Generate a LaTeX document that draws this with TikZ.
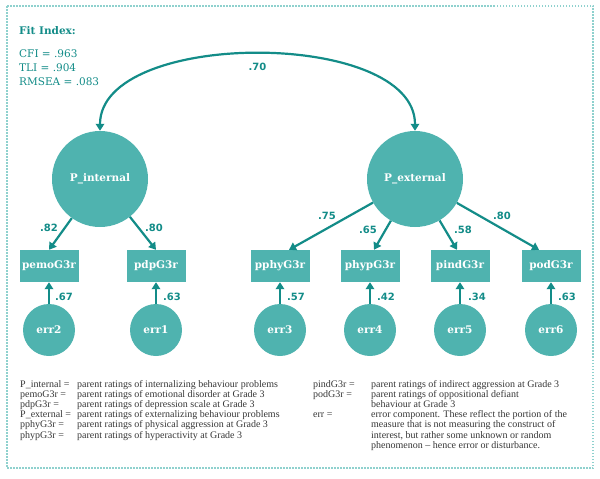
\documentclass[tikz,border=0pt]{standalone}
\usepackage{fontspec}
\setmainfont{Liberation Serif}
\newfontfamily\slabfont{DejaVu Serif}
\newfontfamily\numfont{DejaVu Sans}
\usepackage{xcolor}
\usetikzlibrary{arrows.meta}

\definecolor{tealfill}{HTML}{4FB3AF}
\definecolor{tealdark}{HTML}{138C88}
\definecolor{tealdots}{HTML}{8FD1CE}
\definecolor{keytext}{HTML}{363636}

\begin{document}
\begin{tikzpicture}[
    x=1pt, y=-1pt,
    >={Triangle[length=7pt, width=8.5pt]},
    latent/.style={circle, fill=tealfill, minimum size=96pt, inner sep=0pt, text=white, font=\slabfont\bfseries\fontsize{10.5}{12}\selectfont},
    observed/.style={rectangle, fill=tealfill, minimum width=59pt, minimum height=32pt, inner sep=0pt, text=white, font=\slabfont\bfseries\fontsize{10.5}{12}\selectfont},
    errnode/.style={circle, fill=tealfill, minimum size=52pt, inner sep=0pt, text=white, font=\slabfont\bfseries\fontsize{10.5}{12}\selectfont},
    link/.style={draw=tealdark, line width=2.2pt, ->},
    coef/.style={text=tealdark, inner sep=0pt, font=\numfont\bfseries\fontsize{10}{12}\selectfont},
    keynote/.style={text=keytext, inner sep=0pt, font=\fontsize{10}{10.2}\selectfont}
]
\useasboundingbox (0,0) rectangle (600,479);
\draw[tealdots, line width=1.5pt, dash pattern=on 1.5pt off 1.5pt] (7,6) rectangle (593,468);

% fit indices
\node[anchor=north west, align=left, inner sep=0pt, text=tealdark, font=\slabfont\fontsize{10.5}{14}\selectfont] (fit) at (19,26)
    {\textbf{Fit Index:}\\[9pt] CFI = .963\\ TLI = .904\\ RMSEA = .083};

% latent factors
\node[latent] (pint) at (100,179) {P\_internal};
\node[latent] (pext) at (415,179) {P\_external};

% indicators
\node[observed] (pemo) at (49,266)  {pemoG3r};
\node[observed] (pdp)  at (156,266) {pdpG3r};
\node[observed] (pphy) at (280,266) {pphyG3r};
\node[observed] (phyp) at (370,266) {phypG3r};
\node[observed] (pind) at (460,266) {pindG3r};
\node[observed] (pod)  at (551,266) {podG3r};

% error terms
\node[errnode] (err2) at (49,330)  {err2};
\node[errnode] (err1) at (156,330) {err1};
\node[errnode] (err3) at (280,330) {err3};
\node[errnode] (err4) at (370,330) {err4};
\node[errnode] (err5) at (460,330) {err5};
\node[errnode] (err6) at (551,330) {err6};

% correlation
\draw[link, <->] (pext.north) .. controls +(0,-102) and +(0,-102) .. node[coef, below=8pt] (r) {.70} (pint.north);

% loadings
\draw[link] (pint) -- (pemo.north);
\draw[link] (pint) -- (pdp.north);
\draw[link] (pext) -- ([xshift=9pt]pphy.north);
\draw[link] (pext) -- ([xshift=4pt]phyp.north);
\draw[link] (pext) -- ([xshift=-3pt]pind.north);
\draw[link] (pext) -- ([xshift=-12pt]pod.north);
\node[coef] (l1) at (49,228)  {.82};
\node[coef] (l2) at (154,228) {.80};
\node[coef] (l3) at (327,216) {.75};
\node[coef] (l4) at (368,230) {.65};
\node[coef] (l5) at (463,230) {.58};
\node[coef] (l6) at (502,216) {.80};

% residuals
\foreach \e/\o in {err2/pemo, err1/pdp, err3/pphy, err4/phyp, err5/pind, err6/pod}
    \draw[link] (\e.north) -- (\o.south);
\node[coef] (e2) at (64,297)  {.67};
\node[coef] (e1) at (172,297) {.63};
\node[coef] (e3) at (296,297) {.57};
\node[coef] (e4) at (386,297) {.42};
\node[coef] (e5) at (477,297) {.34};
\node[coef] (e6) at (567,297) {.63};

% key
\node[keynote, anchor=base west] (keyL) at (20,387) {\begin{tabular}[t]{@{}p{57pt}@{}l@{}}
P\_internal = & parent ratings of internalizing behaviour problems\\
pemoG3r = & parent ratings of emotional disorder at Grade 3\\
pdpG3r = & parent ratings of depression scale at Grade 3\\
P\_external = & parent ratings of externalizing behaviour problems\\
pphyG3r = & parent ratings of physical aggression at Grade 3\\
phypG3r = & parent ratings of hyperactivity at Grade 3
\end{tabular}};
\node[keynote, anchor=base west] (keyR) at (313,387) {\begin{tabular}[t]{@{}p{58pt}@{}l@{}}
pindG3r = & parent ratings of indirect aggression at Grade 3\\
podG3r = & parent ratings of oppositional defiant\\
 & behaviour at Grade 3\\
err = & error component. These reflect the portion of the\\
 & measure that is not measuring the construct of\\
 & interest, but rather some unknown or random\\
 & phenomenon -- hence error or disturbance.
\end{tabular}};
\end{tikzpicture}
\end{document}
